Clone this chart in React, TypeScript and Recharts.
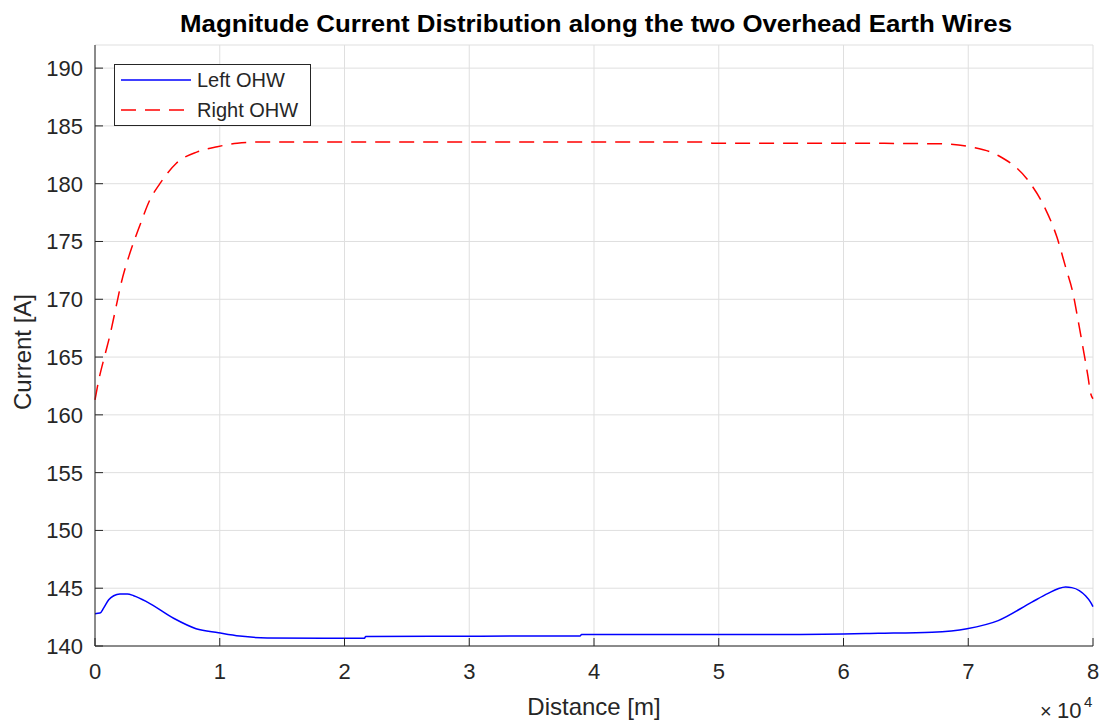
import { LineChart, Line, XAxis, YAxis, CartesianGrid, Legend, Label } from 'recharts'

const FONT = '"Liberation Sans", Arial, Helvetica, sans-serif'
const INK = '#262626'

// distance along the line [m] and current magnitude [A]
const leftDist = [
  0, 400, 700, 1100, 1500, 2000, 2600, 3100, 4200, 6300, 8100, 9900, 11600, 13800, 20000,
  21600, 21700, 30000, 38900, 39000, 56000, 62800, 67100, 69900, 72400, 75100,
  76400, 77200, 77800, 78300, 78900, 79400, 79800, 80000,
]
const leftCurrent = [
  142.8, 142.85, 143.3, 144.0, 144.35, 144.5, 144.5, 144.35, 143.8, 142.4, 141.5, 141.15, 140.86, 140.7, 140.66,
  140.67, 140.83, 140.85, 140.87, 141.0, 141.0, 141.1, 141.2, 141.5, 142.2, 143.8,
  144.55, 144.95, 145.1, 145.05, 144.8, 144.35, 143.8, 143.4,
]

const rightDist = [
  0, 300, 800, 1200, 1700, 2100, 2800, 3600, 4400, 5200, 6500, 8200, 9800, 11400, 13000,
  20000, 30000, 40000, 49000, 49500, 60000, 67900, 70300, 72400, 74800, 76100, 77100,
  77800, 78400, 78800, 79200, 79600, 79800, 80000,
]
const rightCurrent = [
  161.3, 163.0, 165.2, 166.9, 169.4, 171.4, 174.0, 176.4, 178.6, 180.0, 181.75, 182.75, 183.2, 183.5, 183.6,
  183.6, 183.6, 183.6, 183.6, 183.5, 183.5, 183.45, 183.16, 182.44, 180.28, 178.0, 175.4,
  172.8, 170.5, 168.2, 165.8, 163.3, 161.9, 161.4,
]

const xTicks = [0, 10000, 20000, 30000, 40000, 50000, 60000, 70000, 80000]
const yTicks = [140, 145, 150, 155, 160, 165, 170, 175, 180, 185, 190]

const leftData = leftDist.map((d, i) => ({ dist: d, current: leftCurrent[i] }))
const rightData = rightDist.map((d, i) => ({ dist: d, current: rightCurrent[i] }))

const series = [
  { name: 'Left OHW', color: '#0000ff', dash: undefined as string | undefined },
  { name: 'Right OHW', color: '#ff0000', dash: '15 9' },
]

const text = { fontFamily: FONT, fill: INK }

function BottomTick(props: any) {
  const { x, y, payload } = props
  return (
    <g>
      <line x1={x} x2={x} y1={y} y2={y - 8} stroke={INK} />
      <text x={x} y={y + 33} textAnchor="middle" fontSize={22} {...text}>
        {payload.value / 10000}
      </text>
    </g>
  )
}

function LeftTick(props: any) {
  const { x, y, payload } = props
  return (
    <g>
      <line x1={x} x2={x + 8} y1={y} y2={y} stroke={INK} />
      <text x={x - 12} y={y + 8} textAnchor="end" fontSize={22} {...text}>
        {payload.value}
      </text>
    </g>
  )
}

function TopTick(props: any) {
  const { x, y } = props
  return <line x1={x} x2={x} y1={y} y2={y + 8} stroke={INK} />
}

function RightTick(props: any) {
  const { x, y } = props
  return <line x1={x} x2={x - 8} y1={y} y2={y} stroke={INK} />
}

function LegendBox() {
  return (
    <svg width={197} height={62} style={{ display: 'block' }}>
      <rect x={0.5} y={0.5} width={196} height={61} fill="#fff" stroke={INK} />
      {series.map((s, i) => (
        <g key={s.name}>
          <line
            x1={7} x2={77} y1={16 + i * 30} y2={16 + i * 30}
            stroke={s.color} strokeWidth={1.5} strokeDasharray={s.dash}
          />
          <text x={83} y={23 + i * 30} fontSize={20} {...text}>{s.name}</text>
        </g>
      ))}
    </svg>
  )
}

export default function App() {
  return (
    <div style={{ position: 'absolute', left: 0, top: 0, width: 1103, height: 724, background: '#fff' }}>
      <LineChart width={1103} height={724} margin={{ top: 45, right: 10, bottom: 0, left: 0 }}>
        <CartesianGrid stroke="#dfdfdf" strokeWidth={1} />
        <XAxis
          type="number" dataKey="dist" domain={[0, 80000]} ticks={xTicks} interval={0}
          height={78} tickSize={0} tickMargin={0} tickLine={false}
          axisLine={{ stroke: INK }} tick={<BottomTick />}
        >
          <Label
            content={() => (
              <text x={594} y={715} textAnchor="middle" fontSize={24} {...text}>Distance [m]</text>
            )}
          />
        </XAxis>
        <XAxis
          xAxisId="top" orientation="top" type="number" domain={[0, 80000]} ticks={xTicks}
          interval={0} height={0} tickSize={0} tickMargin={0} tickLine={false}
          axisLine={{ stroke: INK }} tick={<TopTick />}
        />
        <YAxis
          type="number" domain={[140, 192]} ticks={yTicks} interval={0} width={95}
          tickSize={0} tickMargin={0} tickLine={false}
          axisLine={{ stroke: INK }} tick={<LeftTick />}
        >
          <Label
            content={() => (
              <text
                transform="translate(31, 352) rotate(-90)" textAnchor="middle"
                fontSize={24} {...text}
              >
                Current [A]
              </text>
            )}
          />
        </YAxis>
        <YAxis
          yAxisId="right" orientation="right" type="number" domain={[140, 192]} ticks={yTicks}
          interval={0} width={0} tickSize={0} tickMargin={0} tickLine={false}
          axisLine={{ stroke: INK }} tick={<RightTick />}
        />
        <Legend
          layout="vertical" align="center" verticalAlign="middle"
          wrapperStyle={{ left: 114, top: 64, width: 197, height: 62 }}
          content={() => <LegendBox />}
        />
        <Line
          data={leftData} dataKey="current" name={series[0].name} type="monotone"
          stroke={series[0].color} strokeWidth={1.5} dot={false} isAnimationActive={false}
        />
        <Line
          data={rightData} dataKey="current" name={series[1].name} type="monotone"
          stroke={series[1].color} strokeWidth={1.5} strokeDasharray={series[1].dash}
          dot={false} isAnimationActive={false}
        />
      </LineChart>
      <svg
        width={1103} height={724}
        style={{ position: 'absolute', left: 0, top: 0, pointerEvents: 'none' }}
      >
        <text
          x={596} y={32} textAnchor="middle" fontSize={23} fontWeight="bold"
          textLength={832} lengthAdjust="spacingAndGlyphs" fontFamily={FONT} fill="#000"
        >
          Magnitude Current Distribution along the two Overhead Earth Wires
        </text>
        <text y={718} fontSize={22} {...text}>
          <tspan x={1040} fontSize={20}>×</tspan>
          <tspan x={1057}>10</tspan>
          <tspan x={1084} y={707} fontSize={15}>4</tspan>
        </text>
      </svg>
    </div>
  )
}
